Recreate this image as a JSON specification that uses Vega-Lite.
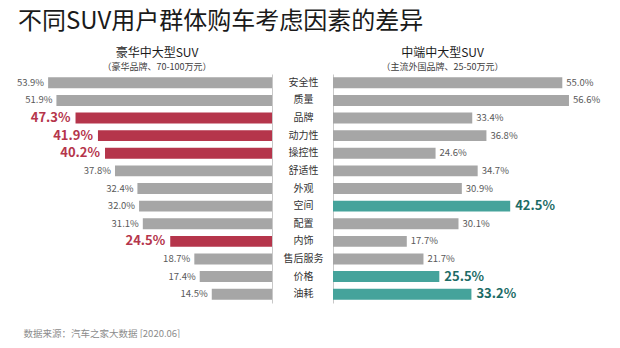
{
  "$schema": "https://vega.github.io/schema/vega-lite/v6.json",
  "padding": {"left": 2, "top": 10, "right": 0, "bottom": 0},
  "background": "white",
  "config": {"font": "Noto Sans CJK SC", "view": {"stroke": null}},
  "title": {
    "text": "不同SUV用户群体购车考虑因素的差异",
    "anchor": "start",
    "dx": 16,
    "fontSize": 24,
    "fontWeight": "normal",
    "color": "#1a1a1a",
    "offset": 13
  },
  "data": {
    "values": [
      {"f": "安全性", "a": 0.539, "ah": "lo", "b": 0.550, "bh": "lo"},
      {"f": "质量", "a": 0.519, "ah": "lo", "b": 0.566, "bh": "lo"},
      {"f": "品牌", "a": 0.473, "ah": "hi", "b": 0.334, "bh": "lo"},
      {"f": "动力性", "a": 0.419, "ah": "hi", "b": 0.368, "bh": "lo"},
      {"f": "操控性", "a": 0.402, "ah": "hi", "b": 0.246, "bh": "lo"},
      {"f": "舒适性", "a": 0.378, "ah": "lo", "b": 0.347, "bh": "lo"},
      {"f": "外观", "a": 0.324, "ah": "lo", "b": 0.309, "bh": "lo"},
      {"f": "空间", "a": 0.320, "ah": "lo", "b": 0.425, "bh": "hi"},
      {"f": "配置", "a": 0.311, "ah": "lo", "b": 0.301, "bh": "lo"},
      {"f": "内饰", "a": 0.245, "ah": "hi", "b": 0.177, "bh": "lo"},
      {"f": "售后服务", "a": 0.187, "ah": "lo", "b": 0.217, "bh": "lo"},
      {"f": "价格", "a": 0.174, "ah": "lo", "b": 0.255, "bh": "hi"},
      {"f": "油耗", "a": 0.145, "ah": "lo", "b": 0.332, "bh": "hi"}
    ]
  },
  "bounds": "flush",
  "spacing": 61,
  "resolve": {"scale": {"color": "independent"}},
  "hconcat": [
    {
      "width": 270,
      "height": 229,
      "title": {
        "text": "豪华中大型SUV",
        "subtitle": "（豪华品牌、70-100万元）",
        "anchor": "middle",
        "dx": 20,
        "fontSize": 12,
        "fontWeight": "normal",
        "color": "#1a1a1a",
        "subtitleFontSize": 9,
        "subtitleColor": "#404040",
        "subtitlePadding": 3,
        "offset": 1
      },
      "encoding": {
        "y": {
          "field": "f", "type": "nominal", "sort": null,
          "scale": {"paddingInner": 0.38, "paddingOuter": 0.19},
          "axis": {"orient": "right", "labels": false, "ticks": false, "domainColor": "#c8c8c8", "title": null}
        },
        "x": {
          "field": "a", "type": "quantitative",
          "scale": {"domain": [0, 0.65], "reverse": true},
          "axis": {
            "labels": false, "ticks": false, "domain": false, "grid": false,
            "title": "数据来源：汽车之家大数据 [2020.06]",
            "titleX": 21, "titleY": 33, "titleAlign": "left", "titleAnchor": null,
            "titleBaseline": "alphabetic", "titleFontSize": 9.5, "titleFontWeight": "normal", "titleColor": "#8c8c8c"
          }
        }
      },
      "layer": [
        {
          "mark": {"type": "bar"},
          "encoding": {
            "color": {"field": "ah", "type": "nominal", "scale": {"domain": ["lo", "hi"], "range": ["#a6a6a6", "#b5354b"]}, "legend": null}
          }
        },
        {
          "transform": [{"filter": "datum.ah == 'lo'"}],
          "mark": {"type": "text", "align": "right", "dx": -4, "fontSize": 9.5, "color": "#595959"},
          "encoding": {"text": {"field": "a", "type": "quantitative", "format": ".1%"}}
        },
        {
          "transform": [{"filter": "datum.ah == 'hi'"}],
          "mark": {"type": "text", "align": "right", "dx": -5, "fontSize": 13, "fontWeight": "bold", "color": "#b5354b"},
          "encoding": {"text": {"field": "a", "type": "quantitative", "format": ".1%"}}
        }
      ]
    },
    {
      "width": 271,
      "height": 229,
      "title": {
        "text": "中端中大型SUV",
        "subtitle": "（主流外国品牌、25-50万元）",
        "anchor": "middle",
        "dx": -26,
        "fontSize": 12,
        "fontWeight": "normal",
        "color": "#1a1a1a",
        "subtitleFontSize": 9,
        "subtitleColor": "#404040",
        "subtitlePadding": 3,
        "offset": 1
      },
      "encoding": {
        "y": {
          "field": "f", "type": "nominal", "sort": null,
          "scale": {"paddingInner": 0.38, "paddingOuter": 0.19},
          "axis": {"orient": "left", "ticks": false, "labelAlign": "center", "labelPadding": 30, "labelFontSize": 10, "labelColor": "#333333", "domainColor": "#c8c8c8", "title": null}
        },
        "x": {
          "field": "b", "type": "quantitative",
          "scale": {"domain": [0, 0.65]},
          "axis": null
        }
      },
      "layer": [
        {
          "mark": {"type": "bar"},
          "encoding": {
            "color": {"field": "bh", "type": "nominal", "scale": {"domain": ["lo", "hi"], "range": ["#a6a6a6", "#45a39b"]}, "legend": null}
          }
        },
        {
          "transform": [{"filter": "datum.bh == 'lo'"}],
          "mark": {"type": "text", "align": "left", "dx": 4, "fontSize": 9.5, "color": "#595959"},
          "encoding": {"text": {"field": "b", "type": "quantitative", "format": ".1%"}}
        },
        {
          "transform": [{"filter": "datum.bh == 'hi'"}],
          "mark": {"type": "text", "align": "left", "dx": 5, "fontSize": 13, "fontWeight": "bold", "color": "#1d6b66"},
          "encoding": {"text": {"field": "b", "type": "quantitative", "format": ".1%"}}
        }
      ]
    }
  ]
}
